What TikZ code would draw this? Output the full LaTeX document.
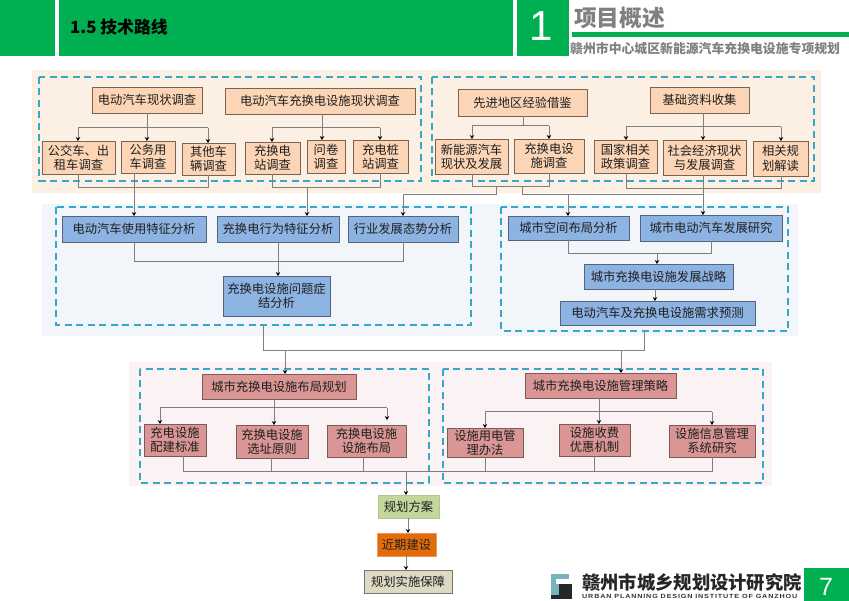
\documentclass[tikz,border=0pt]{standalone}
\usepackage{fontspec}
\setmainfont{Noto Sans CJK SC}
\newfontfamily\latinb{Liberation Sans}
\newfontfamily\latinw{Liberation Sans}[FakeStretch=1.2,LetterSpace=14]
\usetikzlibrary{arrows.meta,calc}
\definecolor{grn}{HTML}{00B050}
\definecolor{dashc}{HTML}{35A8C8}
\definecolor{linec}{HTML}{7F7F7F}
\definecolor{txt}{HTML}{1F1F1F}
\tikzset{
  boxbase/.style={draw,line width=0.9pt,inner sep=0pt,outer sep=0pt,align=center,text=txt,font=\fontsize{12.3}{14.3}\selectfont},
  obox/.style={boxbase,fill={rgb,255:red,251;green,213;blue,181},draw={rgb,255:red,120;green,100;blue,85}},
  bbox/.style={boxbase,fill={rgb,255:red,141;green,179;blue,226},draw={rgb,255:red,85;green,100;blue,125}},
  pbox/.style={boxbase,fill={rgb,255:red,217;green,150;blue,148},draw={rgb,255:red,125;green,90;blue,90}},
  gbox/.style={boxbase,fill={rgb,255:red,195;green,214;blue,155},draw={rgb,255:red,175;green,200;blue,140}},
  rbox/.style={boxbase,fill={rgb,255:red,227;green,108;blue,10},draw={rgb,255:red,240;green,150;blue,90}},
  tbox/.style={boxbase,fill={rgb,255:red,221;green,217;blue,195},draw={rgb,255:red,120;green,120;blue,115}},
  frame/.style={draw=dashc,line width=1.5pt,dash pattern=on 7pt off 4.5pt},
  wire/.style={draw=linec,line width=1pt},
  arr/.style={wire,-{Stealth[length=4pt,width=4.5pt,color=black]}},
}
\newcommand{\bx}[7]{\node[#1,minimum width={(#5-#3)*1pt},minimum height={(#6-#4)*1pt}] (#2) at ({(#3+#5)/2},{(#4+#6)/2}) {#7};}
\begin{document}
\begin{tikzpicture}[x=1pt,y=-1pt]
\useasboundingbox (0,0) rectangle (849,601);
% header
\fill[grn] (0,0) rectangle (55,56);
\fill[grn] (59,0) rectangle (513,56);
\fill[grn] (517,0) rectangle (569,56);
\node[anchor=west,inner sep=0pt,font=\fontsize{16.8}{17}\selectfont\bfseries] (sec) at (70,27) {1.5 技术路线};
\node[text=white,inner sep=0pt,font=\latinb\fontsize{42}{42}\selectfont] (num) at (541,26) {1};
\node[anchor=west,inner sep=0pt,text=black!50,font=\fontsize{22.7}{24}\selectfont\bfseries] (ttl) at (574,18) {项目概述};
\fill[grn] (572,32) rectangle (849,37);
\node[anchor=west,inner sep=0pt,text=black!50,font=\fontsize{12.85}{14}\selectfont\bfseries] (sub) at (570,48.5) {赣州市中心城区新能源汽车充换电设施专项规划};
% bands
\fill[fill={rgb,255:red,252;green,240;blue,228}] (32,70) rectangle (821,193);
\fill[fill={rgb,255:red,242;green,246;blue,251}] (42,204) rectangle (798,336);
\fill[fill={rgb,255:red,251;green,243;blue,243}] (129,362) rectangle (772,486);
% frames
\draw[frame] (39,77) rectangle (421,181);
\draw[frame] (432,77) rectangle (814,181);
\draw[frame] (56,207) rectangle (471,325);
\draw[frame] (501,207) rectangle (788,331);
\draw[frame] (140,369) rectangle (429,483);
\draw[frame] (443,369) rectangle (763,483);
\coordinate (f3b) at (263,325);
\coordinate (f4b) at (644,331);
% row 1 boxes
\bx{obox}{a}{92}{87}{202}{113}{电动汽车现状调查}
\bx{obox}{b}{225}{88}{415}{114}{电动汽车充换电设施现状调查}
\bx{obox}{a1}{42}{141}{115}{174}{公交车、出\\租车调查}
\bx{obox}{a2}{121}{141}{175}{173}{公务用\\车调查}
\bx{obox}{a3}{182}{143}{235}{175}{其他车\\辆调查}
\bx{obox}{b1}{245}{142}{300}{174}{充换电\\站调查}
\bx{obox}{b2}{307}{140}{345}{173}{问卷\\调查}
\bx{obox}{b3}{353}{140}{408}{173}{充电桩\\站调查}
\bx{obox}{c}{458}{89}{587}{116}{先进地区经验借鉴}
\bx{obox}{d}{650}{87}{749}{113}{基础资料收集}
\bx{obox}{c1}{435}{139}{508}{174}{新能源汽车\\现状及发展}
\bx{obox}{c2}{514}{139}{584}{173}{充换电设\\施调查}
\bx{obox}{d1}{594}{140}{657}{173}{国家相关\\政策调查}
\bx{obox}{d2}{663}{140}{746}{175}{社会经济现状\\与发展调查}
\bx{obox}{d3}{753}{141}{808}{176}{相关规\\划解读}
% row 2 boxes
\bx{bbox}{e1}{62}{216}{206}{242}{电动汽车使用特征分析}
\bx{bbox}{e2}{217}{216}{339}{242}{充换电行为特征分析}
\bx{bbox}{e3}{348}{216}{458}{242}{行业发展态势分析}
\bx{bbox}{e4}{223}{276}{330}{316}{充换电设施问题症\\结分析}
\bx{bbox}{g1}{508}{216}{629}{240}{城市空间布局分析}
\bx{bbox}{g2}{640}{215}{782}{241}{城市电动汽车发展研究}
\bx{bbox}{g3}{584}{264}{733}{289}{城市充换电设施发展战略}
\bx{bbox}{g4}{560}{301}{755}{325}{电动汽车及充换电设施需求预测}
% row 3 boxes
\bx{pbox}{h}{202}{374}{356}{399}{城市充换电设施布局规划}
\bx{pbox}{h1}{144}{424}{206}{456}{充电设施\\配建标准}
\bx{pbox}{h2}{236}{425}{308}{458}{充换电设施\\选址原则}
\bx{pbox}{h3}{327}{425}{406}{457}{充换电设施\\设施布局}
\bx{pbox}{k}{525}{373}{676}{398}{城市充换电设施管理策略}
\bx{pbox}{k1}{447}{428}{523}{457}{设施用电管\\理办法}
\bx{pbox}{k2}{559}{424}{630}{456}{设施收费\\优惠机制}
\bx{pbox}{k3}{669}{425}{755}{457}{设施信息管理\\系统研究}
% final boxes
\bx{gbox}{p1}{378}{495}{439}{518}{规划方案}
\bx{rbox}{p2}{377}{533}{436}{556}{近期建设}
\bx{tbox}{p3}{364}{570}{452}{593}{规划实施保障}
% junctions
\coordinate (ja) at (147,128);
\coordinate (jb) at (322,128);
\coordinate (jc) at (523,126);
\coordinate (jd) at (703,127);
\coordinate (ja1) at (78,188);
\coordinate (ja3) at (208,188);
\coordinate (ja2x) at (134,188);
\coordinate (jb1) at (272,188);
\coordinate (jb3) at (380,188);
\coordinate (jb2x) at (307,188);
\coordinate (jc1) at (472,187);
\coordinate (jc2) at (549,187);
\coordinate (jcL) at (496,195);
\coordinate (jcR) at (522,195);
\coordinate (jtop) at (568,195);
\coordinate (je3) at (403,195);
\coordinate (jd1) at (626,189);
\coordinate (jd3) at (781,189);
\coordinate (je1) at (134,262);
\coordinate (je3b) at (403,262);
\coordinate (je2x) at (278,262);
\coordinate (jg1) at (568,254);
\coordinate (jg2) at (711,254);
\coordinate (jg3) at (657,254);
\coordinate (jg4) at (655,295);
\coordinate (jm) at (263,351);
\coordinate (jn) at (644,351);
\coordinate (jh) at (285,351);
\coordinate (jk) at (621,351);
\coordinate (jh0) at (274,408);
\coordinate (jh1) at (160,408);
\coordinate (jh3) at (387,408);
\coordinate (jh3e) at (387,420);
\coordinate (jk0) at (599,412);
\coordinate (jk1) at (485,412);
\coordinate (jk3) at (712,412);
\coordinate (bl) at (183,471);
\coordinate (bm) at (271,471);
\coordinate (br) at (363,471);
\coordinate (bo) at (406,471);
\coordinate (bk1) at (485,471);
\coordinate (bk2) at (594,471);
\coordinate (bk3) at (712,471);
\coordinate (jp1) at (408,525);
\coordinate (jp2) at (406,563);
% row 1 wires
\draw[wire] (a.south -| ja) -- (ja);
\draw[wire] (ja1 |- ja) -- (ja3 |- ja);
\draw[arr] (ja1 |- ja) -- (a1.north -| ja1);
\draw[arr] (ja) -- (a2.north -| ja);
\draw[arr] (ja3 |- ja) -- (a3.north -| ja3);
\draw[wire] (b.south -| jb) -- (jb);
\draw[wire] (jb1 |- jb) -- (jb3 |- jb);
\draw[arr] (jb1 |- jb) -- (b1.north -| jb1);
\draw[arr] (jb) -- (b2.north -| jb);
\draw[arr] (jb3 |- jb) -- (b3.north -| jb3);
\draw[wire] (c.south -| jc) -- (jc);
\draw[wire] (jc1 |- jc) -- (jc2 |- jc);
\draw[arr] (jc1 |- jc) -- (c1.north -| jc1);
\draw[arr] (jc2 |- jc) -- (c2.north -| jc2);
\draw[wire] (d.south -| jd) -- (jd);
\draw[wire] (jd1 |- jd) -- (jd3 |- jd);
\draw[arr] (jd1 |- jd) -- (d1.north -| jd1);
\draw[arr] (jd) -- (d2.north -| jd);
\draw[arr] (jd3 |- jd) -- (d3.north -| jd3);
% row 1 to row 2
\draw[wire] (a1.south -| ja1) -- (ja1) -- (ja3) -- (a3.south -| ja3);
\draw[arr] (a2.south -| ja2x) -- (e1.north -| ja2x);
\draw[wire] (b1.south -| jb1) -- (jb1) -- (jb3) -- (b3.south -| jb3);
\draw[arr] (jb2x) -- (e2.north -| jb2x);
\draw[wire] (c1.south -| jc1) -- (jc1) -- (jc2) -- (c2.south -| jc2);
\draw[arr] (jc1 -| jcL) -- (jcL) -- (je3) -- (e3.north -| je3);
\draw[wire] (jc1 -| jcR) -- (jcR) -- (jd |- jcR);
\draw[arr] (jtop) -- (g1.north -| jtop);
\draw[wire] (d1.south -| jd1) -- (jd1) -- (jd3) -- (d3.south -| jd3);
\draw[arr] (d2.south -| jd) -- (g2.north -| jd);
% row 2 wires
\draw[wire] (e1.south -| je1) -- (je1) -- (je3b) -- (e3.south -| je3b);
\draw[arr] (e2.south -| je2x) -- (e4.north -| je2x);
\draw[wire] (g1.south -| jg1) -- (jg1) -- (jg2) -- (g2.south -| jg2);
\draw[arr] (jg3) -- (g3.north -| jg3);
\draw[arr] (g3.south -| jg4) -- (g4.north -| jg4);
% row 2 to row 3
\draw[wire] (f3b) -- (jm) -- (jn) -- (f4b);
\draw[arr] (jh) -- (h.north -| jh);
\draw[arr] (jk) -- (k.north -| jk);
% row 3 wires
\draw[wire] (h.south -| jh0) -- (jh0);
\draw[wire] (jh1) -- (jh3);
\draw[arr] (jh1) -- (h1.north -| jh1);
\draw[arr] (jh0) -- (h2.north -| jh0);
\draw[arr] (jh3) -- (jh3e);
\draw[wire] (k.south -| jk0) -- (jk0);
\draw[wire] (jk1) -- (jk3);
\draw[arr] (jk1) -- (k1.north -| jk1);
\draw[arr] (jk0) -- (k2.north -| jk0);
\draw[arr] (jk3) -- (k3.north -| jk3);
\draw[wire] (h1.south -| bl) -- (bl) -- (bk3) -- (k3.south -| bk3);
\draw[wire] (h2.south -| bm) -- (bm);
\draw[wire] (h3.south -| br) -- (br);
\draw[wire] (k1.south -| bk1) -- (bk1);
\draw[wire] (k2.south -| bk2) -- (bk2);
\draw[arr] (bo) -- (p1.north -| bo);
\draw[arr] (p1.south -| jp1) -- (p2.north -| jp1);
\draw[arr] (p2.south -| jp2) -- (p3.north -| jp2);
% logo
\fill[fill={rgb,255:red,120;green,180;blue,190}] (551,574) rectangle (569,595);
\fill[white] (556,579) rectangle (572,584);
\fill[fill={rgb,255:red,35;green,40;blue,40}] (559,584) rectangle (572,599);
\fill[fill={rgb,255:red,35;green,40;blue,40}] (551,595) rectangle (572,599);
\node[anchor=west,inner sep=0pt,text=black!85,font=\fontsize{18.3}{19}\selectfont\bfseries] (lg) at (582,582.5) {赣州市城乡规划设计研究院};
\node[anchor=west,inner sep=0pt,text=black!80,font=\latinw\bfseries\fontsize{6}{6}\selectfont] (lge) at (582,596.5) {URBAN PLANNING DESIGN INSTITUTE OF GANZHOU};
\fill[grn] (804,568) rectangle (849,601);
\node[text=white,inner sep=0pt,font=\latinb\fontsize{25}{25}\selectfont] (pg) at (826,587) {7};
\end{tikzpicture}
\end{document}
